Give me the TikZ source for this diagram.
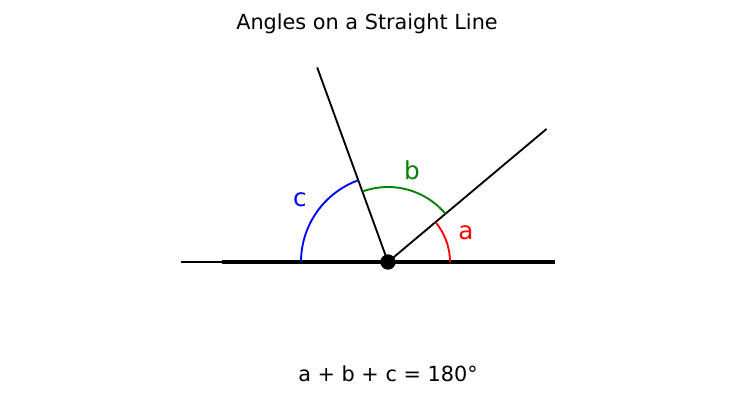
\documentclass[tikz,border=0pt]{standalone}
\usepackage{fontspec}
\setmainfont{DejaVu Sans}
\usetikzlibrary{calc}
\begin{document}
\begin{tikzpicture}[x=0.75pt,y=-0.75pt,
  ray/.style={line width=1.4pt,black},
  arcline/.style={line width=1.4pt},
  lbl/.style={font=\fontsize{18.5}{22}\selectfont},
  txt/.style={font=\fontsize{15.6}{19}\selectfont}]
\useasboundingbox (0,0) rectangle (735,400);
\coordinate (O) at (388,262);
\coordinate (L0) at (181,262);
\coordinate (L1) at (222,262);
\coordinate (R) at (555,262);
\coordinate (P1) at ($(O)+(-40:207)$);
\coordinate (P2) at ($(O)+(-110:207)$);
% horizontal line
\draw[line width=1.4pt] (L0) -- (R);
\draw[line width=2.4pt] (L1) -- (R);
% rays
\draw[ray] (O) -- (P1);
\draw[ray] (O) -- (P2);
% arcs (angles negated because the y axis points down)
\draw[arcline,red] ($(O)+(0:62)$) arc[start angle=0,end angle=-40,radius=62];
\draw[arcline,green!50!black] ($(O)+(-40:75)$) arc[start angle=-40,end angle=-110,radius=75];
\draw[arcline,blue] ($(O)+(-110:87)$) arc[start angle=-110,end angle=-180,radius=87];
% center dot
\node[circle,fill=black,inner sep=0pt,minimum size=11.5pt] (dot) at (O) {};
% labels
\node[lbl,text=red] (la) at (466,233) {a};
\node[lbl,text=green!50!black] (lb) at (412,170) {b};
\node[lbl,text=blue] (lc) at (300,200) {c};
\node[txt] (title) at (367,24) {Angles on a Straight Line};
\node[txt] (eq) at (388,374) {a + b + c = 180°};
\end{tikzpicture}
\end{document}
